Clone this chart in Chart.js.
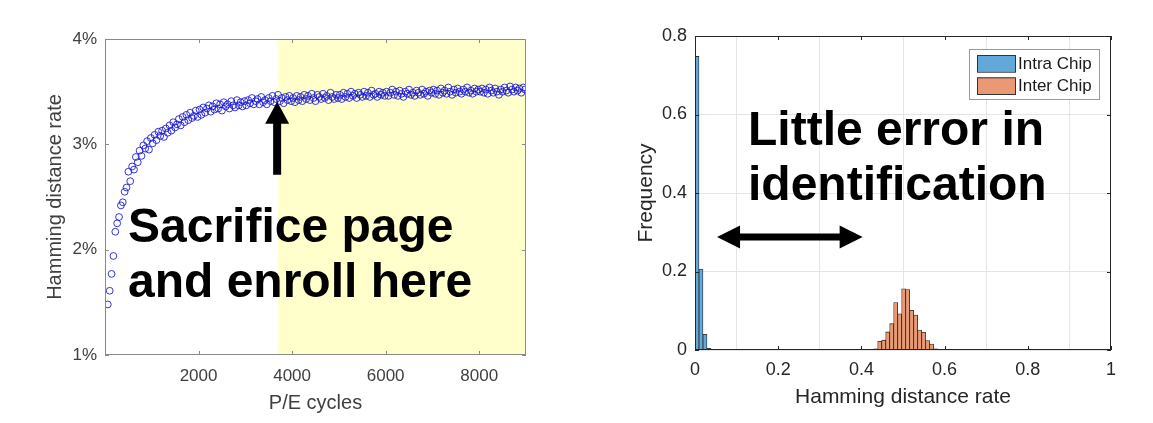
<!DOCTYPE html>
<html>
<head>
<meta charset="utf-8">
<script src="https://cdn.jsdelivr.net/npm/chart.js@4.4.1/dist/chart.umd.min.js"></script>
<style>
  body { margin: 0; background: #fff; width: 1153px; height: 423px; overflow: hidden; position: relative; }
  canvas { position: absolute; top: 0; }
  #pe-chart { left: 0; }
  #hist-chart { left: 576px; }
</style>
</head>
<body>
<canvas id="pe-chart" width="576" height="423"></canvas>
<canvas id="hist-chart" width="577" height="423"></canvas>
<script>
// ---- left panel: Hamming distance rate vs P/E cycles ----
const peCycles = [
  60,100,140,180,220,260,300,340,380,420,460,500,540,580,620,660,700,740,780,820,860,900,940,980,
  1020,1060,1100,1140,1180,1220,1260,1300,1340,1380,1420,1460,1500,1540,1580,1620,1660,1700,1740,1780,1820,1860,1900,1940,1980,
  2020,2060,2100,2140,2180,2220,2260,2300,2340,2380,2420,2460,2500,2540,2580,2620,2660,2700,2740,2780,2820,2860,2900,2940,2980,
  3020,3060,3100,3140,3180,3220,3260,3300,3340,3380,3420,3460,3500,3540,3580,3620,3660,3700,3740,3780,3820,3860,3900,3940,3980,
  4020,4060,4100,4140,4180,4220,4260,4300,4340,4380,4420,4460,4500,4540,4580,4620,4660,4700,4740,4780,4820,4860,4900,4940,4980,
  5020,5060,5100,5140,5180,5220,5260,5300,5340,5380,5420,5460,5500,5540,5580,5620,5660,5700,5740,5780,5820,5860,5900,5940,5980,
  6020,6060,6100,6140,6180,6220,6260,6300,6340,6380,6420,6460,6500,6540,6580,6620,6660,6700,6740,6780,6820,6860,6900,6940,6980,
  7020,7060,7100,7140,7180,7220,7260,7300,7340,7380,7420,7460,7500,7540,7580,7620,7660,7700,7740,7780,7820,7860,7900,7940,7980,
  8020,8060,8100,8140,8180,8220,8260,8300,8340,8380,8420,8460,8500,8540,8580,8620,8660,8700,8740,8780,8820,8860,8900,8940,8980
];
const hdRate = [ // percent
  1.48,1.61,1.77,1.94,2.17,2.25,2.31,2.42,2.45,2.55,2.59,2.74,2.65,2.79,2.76,2.88,2.83,2.94,2.89,2.99,2.96,3.03,2.95,3.06,
  3.01,3.09,3.04,3.12,3.08,3.13,3.07,3.15,3.11,3.18,3.13,3.21,3.16,3.19,3.24,3.18,3.26,3.21,3.28,3.23,3.30,3.25,3.27,3.32,3.26,
  3.33,3.28,3.35,3.30,3.34,3.37,3.31,3.36,3.33,3.39,3.34,3.38,3.32,3.40,3.36,3.38,3.34,3.41,3.37,3.35,3.42,3.37,3.40,3.36,3.41,
  3.37,3.42,3.39,3.44,3.38,3.41,3.43,3.38,3.45,3.40,3.42,3.38,3.44,3.41,3.46,3.40,3.43,3.47,3.41,3.44,3.39,3.45,3.42,3.46,3.41,
  3.44,3.40,3.46,3.42,3.45,3.41,3.47,3.43,3.46,3.42,3.48,3.44,3.41,3.47,3.45,3.43,3.48,3.44,3.46,3.42,3.49,3.45,3.43,3.47,3.44,
  3.47,3.43,3.49,3.45,3.48,3.44,3.50,3.46,3.48,3.44,3.49,3.47,3.45,3.50,3.46,3.49,3.45,3.51,3.47,3.48,3.45,3.50,3.47,3.49,3.46,
  3.50,3.46,3.49,3.52,3.47,3.50,3.46,3.51,3.48,3.45,3.50,3.48,3.52,3.47,3.49,3.46,3.51,3.49,3.47,3.52,3.48,3.50,3.46,3.51,3.49,
  3.52,3.48,3.51,3.47,3.53,3.49,3.51,3.48,3.54,3.50,3.47,3.52,3.49,3.53,3.50,3.48,3.52,3.50,3.54,3.49,3.51,3.48,3.53,3.50,3.52,
  3.50,3.53,3.49,3.52,3.48,3.54,3.51,3.49,3.53,3.50,3.47,3.52,3.50,3.54,3.51,3.49,3.55,3.52,3.50,3.54,3.51,3.53,3.49,3.54,3.52
];
const peTicks = [2000, 4000, 6000, 8000];
const hdTicks = [1, 2, 3, 4];
const enrollFrom = 3700;          // start of the shaded region
const arrowAt = [3680, 3.405];    // arrow tip (P/E, %)
const noteLeft = ['Sacrifice page', 'and enroll here'];

// ---- right panel: histogram ----
const intraBins = [0.0048, 0.0144, 0.0240, 0.0336];
const intraFreq = [0.748, 0.206, 0.040, 0.004];
const interBins = [0.4152, 0.4248, 0.4344, 0.4440, 0.4536, 0.4632, 0.4728, 0.4824, 0.4920,
                   0.5016, 0.5112, 0.5208, 0.5304, 0.5400, 0.5496, 0.5592, 0.5688, 0.5784];
const interFreq = [0.001, 0.002, 0.003, 0.022, 0.025, 0.046, 0.067, 0.121, 0.092,
                   0.156, 0.154, 0.101, 0.089, 0.051, 0.045, 0.024, 0.015, 0.003];
const rateTicks = [0, 0.2, 0.4, 0.6, 0.8, 1];
const freqTicks = [0, 0.2, 0.4, 0.6, 0.8];
const gapArrow = [0.053, 0.403, 0.288]; // x from, x to, y
const noteRight = ['Little error in', 'identification'];

const FONT = "'Liberation Sans', Arial, Helvetica, sans-serif";

// axis box with inward ticks, MATLAB style
const boxPlugin = {
  id: 'box',
  afterDatasetsDraw(chart, args, opts) {
    const {ctx, chartArea: a, scales: {x, y}} = chart;
    ctx.save();
    ctx.strokeStyle = opts.color;
    ctx.lineWidth = 1;
    ctx.strokeRect(a.left + 0.5, a.top + 0.5, a.right - a.left - 1, a.bottom - a.top - 1);
    ctx.beginPath();
    x.ticks.forEach(t => {
      const px = Math.round(x.getPixelForValue(t.value)) + 0.5;
      ctx.moveTo(px, a.bottom); ctx.lineTo(px, a.bottom - opts.len);
      ctx.moveTo(px, a.top); ctx.lineTo(px, a.top + opts.len);
    });
    y.ticks.forEach(t => {
      const py = Math.round(y.getPixelForValue(t.value)) + 0.5;
      ctx.moveTo(a.left, py); ctx.lineTo(a.left + opts.len, py);
      ctx.moveTo(a.right, py); ctx.lineTo(a.right - opts.len, py);
    });
    ctx.stroke();
    ctx.restore();
  }
};

const shadePlugin = {
  id: 'shade',
  beforeDatasetsDraw(chart) {
    const {ctx, chartArea: a, scales: {x}} = chart;
    const x0 = x.getPixelForValue(enrollFrom);
    ctx.save();
    ctx.fillStyle = '#ffffcc';
    ctx.fillRect(x0, a.top, a.right - x0, a.bottom - a.top);
    ctx.restore();
  }
};

const peNote = {
  id: 'peNote',
  afterDraw(chart) {
    const {ctx, scales: {x, y}} = chart;
    const tx = x.getPixelForValue(arrowAt[0]);
    const ty = y.getPixelForValue(arrowAt[1]);
    ctx.save();
    ctx.fillStyle = '#000';
    ctx.beginPath();
    ctx.moveTo(tx, ty);
    ctx.lineTo(tx + 12, ty + 22);
    ctx.lineTo(tx + 4, ty + 22);
    ctx.lineTo(tx + 4, ty + 73);
    ctx.lineTo(tx - 4, ty + 73);
    ctx.lineTo(tx - 4, ty + 22);
    ctx.lineTo(tx - 12, ty + 22);
    ctx.closePath();
    ctx.fill();
    ctx.font = 'bold 48px ' + FONT;
    ctx.textBaseline = 'alphabetic';
    noteLeft.forEach((line, i) => ctx.fillText(line, 128, 242 + i * 55));
    ctx.restore();
  }
};

const histNote = {
  id: 'histNote',
  afterDraw(chart) {
    const {ctx, chartArea: a, scales: {x, y}} = chart;
    ctx.save();
    // double arrow
    const x0 = x.getPixelForValue(gapArrow[0]);
    const x1 = x.getPixelForValue(gapArrow[1]);
    const ay = y.getPixelForValue(gapArrow[2]);
    ctx.fillStyle = '#000';
    ctx.beginPath();
    ctx.moveTo(x0, ay);
    ctx.lineTo(x0 + 23, ay - 11.5);
    ctx.lineTo(x0 + 23, ay - 3.5);
    ctx.lineTo(x1 - 23, ay - 3.5);
    ctx.lineTo(x1 - 23, ay - 11.5);
    ctx.lineTo(x1, ay);
    ctx.lineTo(x1 - 23, ay + 11.5);
    ctx.lineTo(x1 - 23, ay + 3.5);
    ctx.lineTo(x0 + 23, ay + 3.5);
    ctx.lineTo(x0 + 23, ay + 11.5);
    ctx.closePath();
    ctx.fill();
    ctx.font = 'bold 48px ' + FONT;
    noteRight.forEach((line, i) => ctx.fillText(line, 172, 145 + i * 55));

    // legend box
    const bx = a.right - 142, by = a.top + 13, bw = 130, bh = 50;
    ctx.fillStyle = '#fff';
    ctx.fillRect(bx, by, bw, bh);
    ctx.strokeStyle = '#9a9a9a';
    ctx.lineWidth = 1;
    ctx.strokeRect(bx + 0.5, by + 0.5, bw, bh);
    ctx.font = '17px ' + FONT;
    ctx.textBaseline = 'middle';
    chart.data.datasets.forEach((ds, i) => {
      const ry = by + 6 + i * 22.3;
      ctx.fillStyle = ds.backgroundColor;
      ctx.fillRect(bx + 8, ry, 38, 16.7);
      ctx.strokeStyle = '#333';
      ctx.strokeRect(bx + 8.5, ry + 0.5, 38, 16.7);
      ctx.fillStyle = '#1a1a1a';
      ctx.fillText(ds.label, bx + 49, ry + 9);
    });
    ctx.restore();
  }
};

const leftText = '#404040';
new Chart(document.getElementById('pe-chart'), {
  type: 'scatter',
  data: {
    datasets: [{
      data: peCycles.map((v, i) => ({x: v, y: hdRate[i]})),
      pointStyle: 'circle',
      pointRadius: 3.4,
      pointBorderWidth: 1,
      pointBorderColor: 'rgba(20,20,215,0.85)',
      pointBackgroundColor: 'rgba(0,0,0,0)'
    }]
  },
  options: {
    responsive: false,
    animation: false,
    layout: {padding: {left: 0, right: 50, top: 39, bottom: 0}},
    plugins: {
      legend: {display: false},
      tooltip: {enabled: false},
      box: {color: '#8a8a8a', len: 4}
    },
    scales: {
      x: {
        type: 'linear', min: 0, max: 9000,
        afterBuildTicks: s => { s.ticks = peTicks.map(v => ({value: v})); },
        afterFit: s => { s.height = 68; },
        ticks: {padding: 11, color: leftText, font: {family: FONT, size: 17}, callback: v => String(v)},
        grid: {display: false, drawTicks: false},
        border: {display: false},
        title: {display: true, text: 'P/E cycles', color: leftText, font: {family: FONT, size: 20}, padding: {top: 0, bottom: 8}}
      },
      y: {
        type: 'linear', min: 1, max: 4,
        afterBuildTicks: s => { s.ticks = hdTicks.map(v => ({value: v})); },
        afterFit: s => { s.width = 105; },
        ticks: {padding: 8, color: leftText, font: {family: FONT, size: 17}, callback: v => v + '%'},
        grid: {display: false, drawTicks: false},
        border: {display: false},
        title: {display: true, text: 'Hamming distance rate', color: leftText, font: {family: FONT, size: 20}, padding: {top: 43, bottom: 0}}
      }
    }
  },
  plugins: [shadePlugin, boxPlugin, peNote]
});

const rightText = '#262626';
new Chart(document.getElementById('hist-chart'), {
  type: 'bar',
  data: {
    datasets: [
      {
        label: 'Intra Chip',
        data: intraBins.map((v, i) => ({x: v, y: intraFreq[i]})),
        backgroundColor: '#62a8d9',
        borderColor: '#2a2a2a',
        borderWidth: 0.8,
        grouped: false,
        barPercentage: 1,
        categoryPercentage: 1
      },
      {
        label: 'Inter Chip',
        data: interBins.map((v, i) => ({x: v, y: interFreq[i]})),
        backgroundColor: '#e99a75',
        borderColor: '#2a2a2a',
        borderWidth: 0.8,
        grouped: false,
        barPercentage: 1,
        categoryPercentage: 1
      }
    ]
  },
  options: {
    responsive: false,
    animation: false,
    layout: {padding: {left: 0, right: 42, top: 36, bottom: 0}},
    plugins: {
      legend: {display: false},
      tooltip: {enabled: false},
      box: {color: '#262626', len: 4}
    },
    scales: {
      x: {
        type: 'linear', min: 0, max: 1, offset: false,
        afterBuildTicks: s => { s.ticks = rateTicks.map(v => ({value: v})); },
        afterFit: s => { s.height = 73; },
        ticks: {padding: 9, color: rightText, font: {family: FONT, size: 18}, callback: v => String(v)},
        grid: {color: '#e4e4e4', drawTicks: false},
        border: {display: false},
        title: {display: true, text: 'Hamming distance rate', color: rightText, font: {family: FONT, size: 21}, padding: {top: 0, bottom: 13}}
      },
      y: {
        type: 'linear', min: 0, max: 0.8,
        afterBuildTicks: s => { s.ticks = freqTicks.map(v => ({value: v})); },
        afterFit: s => { s.width = 119; },
        ticks: {padding: 8, color: rightText, font: {family: FONT, size: 18}, callback: v => String(v)},
        grid: {color: '#e4e4e4', drawTicks: false},
        border: {display: false},
        title: {display: true, text: 'Frequency', color: rightText, font: {family: FONT, size: 21}, padding: {top: 58, bottom: 0}}
      }
    }
  },
  plugins: [boxPlugin, histNote]
});
</script>
</body>
</html>
